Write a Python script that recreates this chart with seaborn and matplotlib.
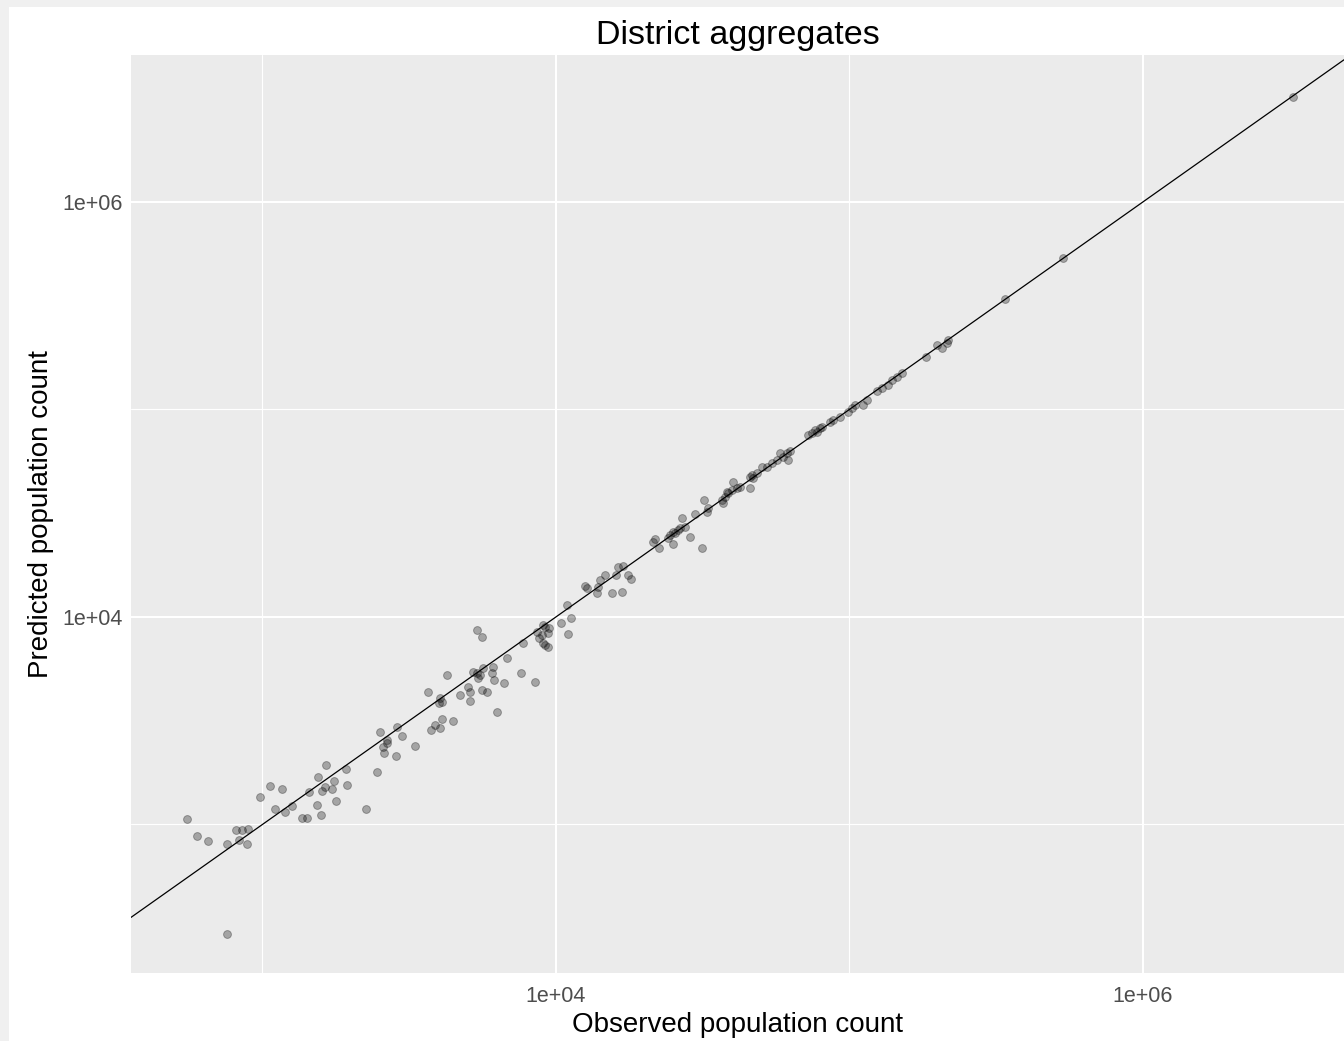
import matplotlib
matplotlib.use("Agg")
import matplotlib.pyplot as plt
from matplotlib.patches import Rectangle
from matplotlib.ticker import FixedLocator, NullFormatter
import pandas as pd
import seaborn as sns

# observed vs predicted district population counts
observed = [
    552, 597, 652, 755, 812, 849, 893, 832, 885, 755,
    980, 1061, 1165, 1104, 1194, 1257, 1361, 1415, 1440, 1530,
    1582, 1545, 1642, 1591, 1721, 1753, 1633, 1920, 1936, 1776,
    2254, 2455, 2574, 2650, 2594, 2851, 3311,
    5395, 5597, 9010, 9490, 9420, 8590, 8730, 9060, 9420, 10370,
    11220, 11020, 7710, 6790, 7590, 8480, 6670, 6310, 6110, 6040,
    6150, 5650, 5370, 5230, 5430, 5510, 5020, 5090, 5590, 5810,
    5090, 4710, 4250, 3650, 4030, 4080, 4000, 4080, 3870, 4030,
    3740, 4450, 2510, 2880, 2980, 2650,
    40180, 38190, 39720, 41300, 37150, 36730, 31920, 33040, 32590, 29790,
    26790, 27540, 26120, 25120, 24430, 24130, 26420, 25410, 28640, 31330,
    25120, 21730, 21460, 22490, 16940, 16290, 16000, 14690, 14130, 13940,
    13770, 17620, 17990, 15490, 16750, 12560, 12730, 10870, 9180, 8940, 9180,
    214300, 206100, 198200, 217300, 182400, 150700, 144900, 139300, 135600, 128800,
    123900, 114600, 111500, 104500, 101700, 99000, 92900, 88100, 85900, 79300,
    76200, 74300, 72400, 77300, 80400, 62700, 61100, 59500, 58000, 56500,
    54300, 52200, 50200, 61800, 48300, 46500, 45800, 47000, 42400, 38600,
    37700, 45800,
    3251000, 532000, 339000,
]
predicted = [
    1064, 881, 832, 805, 940, 940, 951, 842, 805, 297,
    1358, 1534, 1483, 1189, 1148, 1233, 1075, 1075, 1434, 1242,
    1111, 1694, 1935, 1455, 1483, 1626, 1521, 1851, 1550, 1298,
    1189, 1796, 2371, 2470, 2218, 2138, 2399,
    8650, 7980, 9150, 8830, 8340, 8500, 7890, 7460, 7200, 9330,
    9930, 8260, 7460, 6320, 5390, 4880, 4790, 3470, 5720, 5360,
    4970, 5660, 5360, 5450, 5070, 5250, 4610, 4370, 4450, 4370,
    3950, 4210, 5250, 4340, 4060, 3910, 3840, 3220, 3020, 2910,
    2850, 3160, 2800, 2940, 2670, 2550,
    44880, 40180, 40930, 41690, 35320, 36640, 36640, 33420, 32140, 31260,
    30130, 27230, 26240, 25760, 24830, 23930, 26730, 25290, 24210, 21430,
    22390, 23660, 22910, 21430, 17620, 17460, 15930, 15930, 15070, 13990,
    13010, 15930, 15200, 13010, 13240, 14100, 13750, 11430, 8980, 8190, 7330,
    208400, 197200, 204600, 216300, 179500, 149300, 143900, 138700, 131200, 126500,
    122700, 111200, 105200, 105200, 101400, 97500, 92200, 88900, 87300, 81100,
    79600, 76700, 75300, 78200, 82600, 62700, 61500, 59300, 61500, 57100,
    55100, 53000, 53000, 57100, 49300, 48300, 47400, 46600, 42500, 39400,
    38000, 41700,
    3214000, 535000, 340000,
]

major_breaks = [1e4, 1e6]
minor_breaks = [1e3, 1e5]
tick_labels = ["1e+04", "1e+06"]

df = pd.DataFrame({"observed": observed, "predicted": predicted})

sns.set_style("darkgrid")
plt.rcParams["font.family"] = ["Liberation Sans", "DejaVu Sans"]

fig = plt.figure(figsize=(13.44, 10.41), dpi=100)
fig.patch.set_facecolor("#f0f0f0")
# white plotting area of the screenshot
fig.add_artist(Rectangle((9 / 1344, 0), 1, 1 - 7 / 1041, transform=fig.transFigure,
                         facecolor="white", edgecolor="none", zorder=0))

ax = fig.add_axes([131 / 1344, 1 - 973 / 1041, 1 - 131 / 1344, (973 - 55) / 1041])
ax.set_facecolor("#EBEBEB")
for s in ax.spines.values():
    s.set_visible(False)

ax.set_xscale("log")
ax.set_yscale("log")
ax.set_xlim(10 ** 2.552, 10 ** 6.685)
ax.set_ylim(10 ** 2.284, 10 ** 6.708)

ax.xaxis.set_major_locator(FixedLocator(major_breaks))
ax.yaxis.set_major_locator(FixedLocator(major_breaks))
ax.xaxis.set_minor_locator(FixedLocator(minor_breaks))
ax.yaxis.set_minor_locator(FixedLocator(minor_breaks))
ax.set_xticklabels(tick_labels)
ax.set_yticklabels(tick_labels)
ax.xaxis.set_minor_formatter(NullFormatter())
ax.yaxis.set_minor_formatter(NullFormatter())

ax.grid(which="major", color="white", linewidth=1.5)
ax.grid(which="minor", color="white", linewidth=0.8)
ax.set_axisbelow(True)
ax.tick_params(axis="x", which="major", length=4, width=0.8, color="#333333",
               labelcolor="#4D4D4D", labelsize=15.5, pad=5)
ax.tick_params(axis="y", which="major", length=4, width=0.8, color="#333333",
               labelcolor="#4D4D4D", labelsize=15.5, pad=2)
ax.tick_params(which="minor", length=0)

ax.axline((1e3, 1e3), (1e6, 1e6), color="black", linewidth=0.9, zorder=3)
sns.scatterplot(data=df, x="observed", y="predicted", ax=ax, s=32,
                color="black", alpha=0.3, edgecolor="black", linewidth=0.7, zorder=4)

ax.set_xlabel("Observed population count", fontsize=20, color="black", labelpad=4)
ax.set_ylabel("Predicted population count", fontsize=20, color="black", labelpad=6)
ax.set_title("District aggregates", fontsize=24.5, color="black", pad=8)

fig.savefig("out.png", dpi=100, facecolor=fig.get_facecolor())
